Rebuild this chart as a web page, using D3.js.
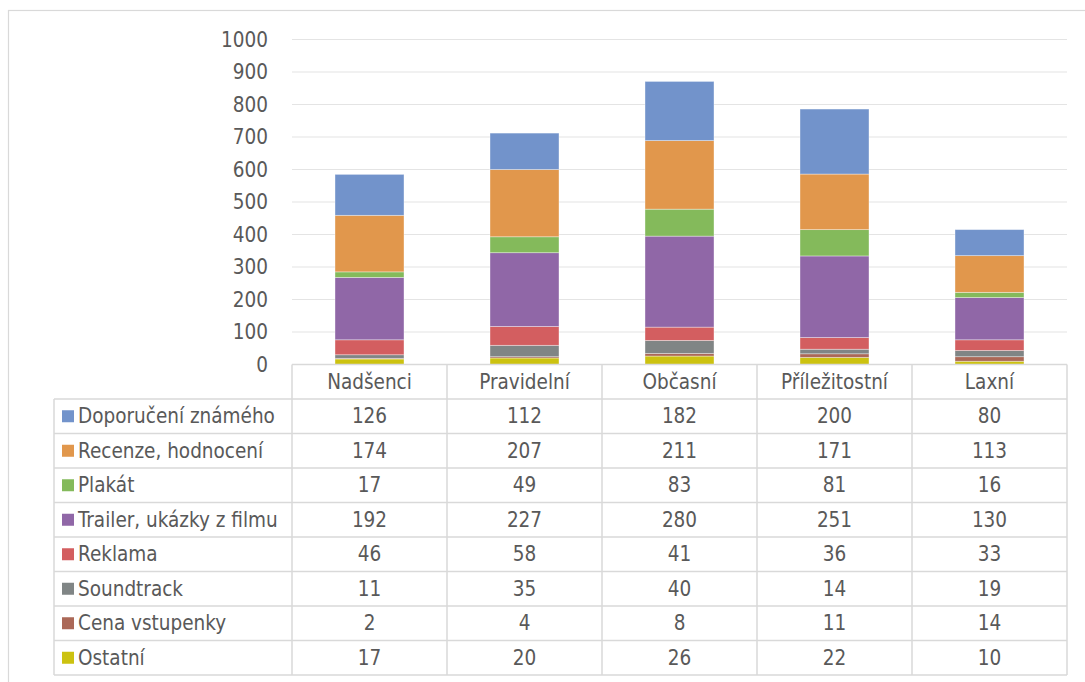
<!DOCTYPE html>
<html>
<head>
<meta charset="utf-8">
<script src="https://cdn.jsdelivr.net/npm/d3@7"></script>
<style>
  html, body { margin: 0; padding: 0; background: #fff; }
  svg { display: block; }
  text { font-family: "DejaVu Sans Condensed", "DejaVu Sans", sans-serif; font-stretch: condensed; fill: #595959; }
</style>
</head>
<body>
<svg id="chart" width="1085" height="682"></svg>
<script>
// Groups of cinema-goers (columns)
const categories = ["Nadšenci", "Pravidelní", "Občasní", "Příležitostní", "Laxní"];

// Series, listed top-to-bottom as in the data table
const seriesNames = [
  "Doporučení známého",
  "Recenze, hodnocení",
  "Plakát",
  "Trailer, ukázky z filmu",
  "Reklama",
  "Soundtrack",
  "Cena vstupenky",
  "Ostatní"
];
const doporuceniZnameho = [126, 112, 182, 200, 80];
const recenzeHodnoceni  = [174, 207, 211, 171, 113];
const plakat            = [17, 49, 83, 81, 16];
const trailer           = [192, 227, 280, 251, 130];
const reklama           = [46, 58, 41, 36, 33];
const soundtrack        = [11, 35, 40, 14, 19];
const cenaVstupenky     = [2, 4, 8, 11, 14];
const ostatni           = [17, 20, 26, 22, 10];

const seriesValues = [
  doporuceniZnameho, recenzeHodnoceni, plakat, trailer,
  reklama, soundtrack, cenaVstupenky, ostatni
];
const seriesColors = [
  "#7293CB", "#E1974C", "#84BA5B", "#9067A7",
  "#D35E60", "#808585", "#AB6857", "#CCC210"
];

const yTicks = [0, 100, 200, 300, 400, 500, 600, 700, 800, 900, 1000];

const svg = d3.select("#chart");
const FONT = 20.5;

// outer chart frame
svg.append("rect")
  .attr("x", 8.5).attr("y", 10.5)
  .attr("width", 1090).attr("height", 690)
  .attr("fill", "none").attr("stroke", "#d9d9d9").attr("stroke-width", 1.2);

const plotLeft = 292, plotRight = 1067;
const x = d3.scaleBand().domain(categories).range([plotLeft, plotRight]).paddingInner(0).paddingOuter(0);
const y = d3.scaleLinear().domain([0, 1000]).range([364.5, 39.5]);

// gridlines
svg.append("g")
  .selectAll("line").data(yTicks.slice(1)).join("line")
  .attr("x1", plotLeft).attr("x2", plotRight)
  .attr("y1", d => y(d)).attr("y2", d => y(d))
  .attr("stroke", "#e4e4e4").attr("stroke-width", 1.2);

// y axis labels
const yAxis = d3.axisLeft(y).tickValues(yTicks).tickSize(0).tickPadding(0).tickFormat(d3.format("d"));
const yg = svg.append("g").attr("transform", "translate(268,0)").call(yAxis);
yg.select(".domain").remove();
yg.selectAll("text").attr("font-size", FONT).attr("font-family", null).style("fill", "#595959");

// stacked bars: bottom series is the last row of the table
const rows = categories.map((c, i) => {
  const r = { cat: c };
  seriesNames.forEach((s, k) => { r[s] = seriesValues[k][i]; });
  return r;
});
const stackOrder = seriesNames.slice().reverse();
const stacked = d3.stack().keys(stackOrder)(rows);
const color = d3.scaleOrdinal().domain(seriesNames).range(seriesColors);

const barW = x.bandwidth() * 0.445;
const barG = svg.append("g");
stacked.forEach(layer => {
  barG.append("g").attr("fill", color(layer.key))
    .selectAll("rect").data(layer).join("rect")
    .attr("x", d => x(d.data.cat) + (x.bandwidth() - barW) / 2)
    .attr("width", barW)
    .attr("y", d => y(d[1]))
    .attr("height", d => y(d[0]) - y(d[1]))
    .attr("stroke", "rgba(255,255,255,0.45)")
    .attr("stroke-width", 0.8);
});

// data table
const headTop = 364.5, rowH = 34.5, tableTop = headTop + rowH;
const legendLeft = 54;
const nRows = seriesNames.length;
const tableBottom = tableTop + nRows * rowH;
const grid = svg.append("g").attr("stroke", "#d9d9d9").attr("stroke-width", 1.5).attr("fill", "none");

// horizontal lines
grid.append("line").attr("x1", plotLeft).attr("x2", plotRight).attr("y1", headTop).attr("y2", headTop);
d3.range(nRows + 1).forEach(k => {
  const yy = tableTop + k * rowH;
  grid.append("line").attr("x1", legendLeft).attr("x2", plotRight).attr("y1", yy).attr("y2", yy);
});
// vertical lines
grid.append("line").attr("x1", legendLeft).attr("x2", legendLeft).attr("y1", tableTop).attr("y2", tableBottom);
categories.concat([null]).forEach((c, i) => {
  const xx = c === null ? plotRight : x(c);
  grid.append("line").attr("x1", xx).attr("x2", xx).attr("y1", headTop).attr("y2", tableBottom);
});

// category headers
svg.append("g").selectAll("text").data(categories).join("text")
  .attr("x", d => x(d) + x.bandwidth() / 2)
  .attr("y", headTop + rowH / 2)
  .attr("dy", "0.35em")
  .attr("text-anchor", "middle")
  .attr("font-size", FONT)
  .text(d => d);

// legend cells and values
seriesNames.forEach((s, k) => {
  const cy = tableTop + k * rowH + rowH / 2;
  svg.append("rect")
    .attr("x", 62).attr("y", cy - 6).attr("width", 12).attr("height", 12)
    .attr("fill", seriesColors[k]);
  svg.append("text")
    .attr("x", 78).attr("y", cy).attr("dy", "0.35em")
    .attr("font-size", FONT)
    .text(s);
  svg.append("g").selectAll("text").data(seriesValues[k]).join("text")
    .attr("x", (d, i) => x(categories[i]) + x.bandwidth() / 2)
    .attr("y", cy).attr("dy", "0.35em")
    .attr("text-anchor", "middle")
    .attr("font-size", FONT)
    .text(d => d);
});
</script>
</body>
</html>
